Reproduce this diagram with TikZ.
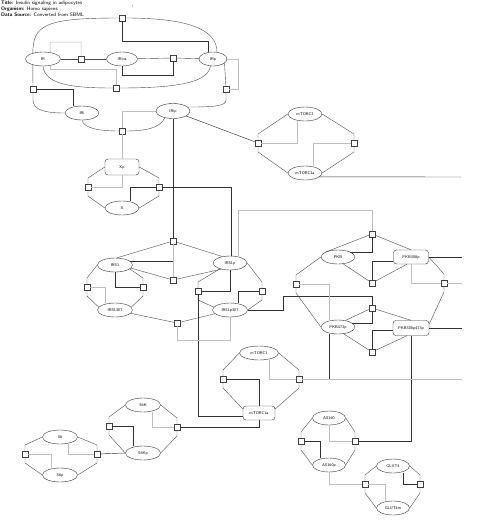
\documentclass[tikz,border=0pt]{standalone}
\usepackage{tikz}
\usetikzlibrary{shapes.geometric,calc}
\tikzset{>=latex}
\tikzset{
  spec/.style={ellipse,draw=black!80,fill=white,line width=0.4pt,minimum width=34pt,minimum height=14pt,inner sep=0pt,font=\fontsize{4}{5}\selectfont\sffamily},
  cplx/.style={rectangle,rounded corners=3pt,draw=black!80,fill=white,line width=0.4pt,minimum width=34pt,minimum height=14pt,inner sep=0pt,font=\fontsize{4}{5}\selectfont\sffamily},
  rxn/.style={rectangle,draw=black!75,fill=white,line width=0.4pt,minimum size=6pt,inner sep=0pt},
  conv/.style={draw=black!70,line width=0.4pt},
  modd/.style={draw=black!80,line width=0.45pt},
  modl/.style={draw=black!25,line width=0.5pt},
}

\begin{document}
\begin{tikzpicture}[x=1pt,y=-1pt]
  \useasboundingbox (0,0) rectangle (480,523);

  % Header
  \node[anchor=north west,align=left,inner sep=0pt,font=\fontsize{5}{6}\selectfont\sffamily] (head) at (1,1)
    {\textbf{Title:} Insulin signaling in adipocytes\\ \textbf{Organism:} Homo sapiens\\ \textbf{Data Source:} Converted from SBML};
  \node[inner sep=0pt,font=\fontsize{4}{5}\selectfont\sffamily,text=blue!40!black!50] (ref) at (133,6) {1};

  % Species
  \node[spec,minimum width=35pt] (ir) at (43,59) {IR};
  \node[spec,minimum width=31pt] (irins) at (122,59) {IRins};
  \node[spec,minimum width=28pt] (irp) at (213,59) {IRp};
  \node[spec] (iri) at (82,113) {IRi};
  \node[spec,minimum height=15pt] (irip) at (173,111) {IRip};
  \node[cplx,minimum height=16pt] (xp) at (122,167) {Xp};
  \node[spec] (x) at (122,208) {X};
  \node[spec] (mtorc2) at (305,114) {mTORC2};
  \node[spec] (mtorc2a) at (305,173) {mTORC2a};
  \node[spec,minimum width=35pt] (irs1) at (115,265) {IRS1};
  \node[spec] (irs1p) at (230,263) {IRS1p};
  \node[spec,minimum width=35pt] (irs1s) at (115,310) {IRS1307};
  \node[spec,minimum width=35pt] (irs1ps) at (230,310) {IRS1p307};
  \node[spec] (pkb) at (338,257) {PKB};
  \node[cplx,minimum width=35pt] (pkbt) at (411,257) {PKB308p};
  \node[spec] (pkbs) at (338,327) {PKB473p};
  \node[cplx,minimum width=36pt,minimum height=15pt] (pkbts) at (411,328) {PKB308p473p};
  \node[spec,minimum width=39pt] (mtorc1) at (259,353) {mTORC1};
  \node[cplx,minimum width=32pt] (mtorc1a) at (259,413) {mTORC1a};
  \node[spec,minimum width=35pt] (s6k) at (143,405) {S6K};
  \node[spec,minimum width=35pt] (s6kp) at (143,453) {S6Kp};
  \node[spec,minimum width=35pt] (s6) at (60,437) {S6};
  \node[spec,minimum width=35pt] (s6p) at (60,475) {S6p};
  \node[spec,minimum width=33pt] (as160) at (329,418) {AS160};
  \node[spec,minimum width=33pt] (as160p) at (329,465) {AS160p};
  \node[spec,minimum width=33pt] (glut4) at (393,466) {GLUT4};
  \node[spec,minimum width=33pt] (glut4m) at (393,508) {GLUT4m};

  % Reactions
  \foreach \n/\p in {r1/{122,18},r2/{81,59},r3/{173,58},r4/{116,88},r5/{33,89},r6/{226,89},r7/{122,131},
      x1/{88,187},x2/{159,187},m1/{258,143},m2/{354,143},
      q1/{173,241},q2/{173,280},q3/{87,287},q4/{143,287},q5/{198,291},q6/{262,291},q7/{177,323},
      p1/{372,234},p2/{296,284},p3/{372,283},p4/{372,308},p5/{444,283},p6/{372,352},
      c1/{223,379},c2/{299,379},k1/{109,426},k2/{177,427},e1/{25,454},e2/{97,454},
      a1/{301,441},a2/{355,441},g1/{365,484},g2/{420,484}}
    \node[rxn] (\n) at (\p) {};

  % Free ends
  \coordinate (out1) at (461,177);
  \coordinate (out2) at (462,257);
  \coordinate (out3) at (462,283);
  \coordinate (out4) at (462,328);
  \coordinate (out5) at (462,379);
  \coordinate (j1) at (329,379);

  % Conversions
  \foreach \a/\n/\b in {xp.west/x1/x.west, xp.east/x2/x.east,
      mtorc2.west/m1/mtorc2a.west, mtorc2.east/m2/mtorc2a.east,
      irs1.west/q3/irs1s.170, irs1.-15/q4/irs1s.10,
      irs1p.-150/q5/irs1ps.170, irs1p.east/q6/irs1ps.east,
      pkb.west/p2/pkbs.west, pkbt.east/p5/pkbts.12,
      mtorc1.west/c1/mtorc1a.166, mtorc1.east/c2/mtorc1a.14,
      s6k.west/k1/s6kp.west, s6k.east/k2/s6kp.east,
      s6.west/e1/s6p.west, s6.east/e2/s6p.east,
      as160.west/a1/as160p.west, as160.east/a2/as160p.east,
      glut4.west/g1/glut4m.west, glut4.east/g2/glut4m.east}
    \draw[conv] (\a) -- ($(\n)+(0,-9)$) -- (\n) (\n) -- ($(\n)+(0,9)$) -- (\b);

  \draw[conv] (ir.150) .. controls (33,25) and (45,18) .. (r1);
  \draw[conv] (r1) .. controls (190,18) and (217,30) .. (irp.60);
  \draw[conv] (ir) -- (r2);
  \draw[conv] (r2) -- (irins);
  \draw[conv] (irins) -- (r3);
  \draw[conv] (r3) -- (irp);
  \draw[conv] (ir.south) .. controls (45,84) and (70,88) .. (r4);
  \draw[conv] (r4) .. controls (180,88) and (208,82) .. (irp.-110);
  \draw[conv] (ir.-150) -- (r5);
  \draw[conv] (r5) -- (33,100) .. controls (33,110) and (45,113) .. (iri.west);
  \draw[conv] (irp.-20) -- (r6);
  \draw[conv] (r6) -- (226,100) .. controls (226,106) and (215,107) .. (irip.15);
  \draw[conv] (iri.south) .. controls (84,128) and (98,131) .. (r7);
  \draw[conv] (r7) .. controls (146,131) and (160,128) .. (irip.-140);
  \draw[conv] (irs1.75) -- (q1);
  \draw[conv] (q1) -- (irs1p.140);
  \draw[conv] (irs1.-11) -- (q2);
  \draw[conv] (q2) -- (irs1p.-145);
  \draw[conv] (irs1s) -- (q7);
  \draw[conv] (q7) -- (irs1ps);
  \draw[conv] (pkb.160) -- (p1);
  \draw[conv] (p1) -- (pkbt.north);
  \draw[conv] (pkb.-53) -- (p3);
  \draw[conv] (p3) -- ([xshift=-4pt]pkbt.south);
  \draw[conv] (pkbs.42) -- (p4);
  \draw[conv] (p4) -- (pkbts.north);
  \draw[conv] (pkbs.-50) -- (p6);
  \draw[conv] (p6) -- ([xshift=-4pt]pkbts.south);

  % Modifiers, dark
  \draw[modd] (r1) -- (122,41) -| ([xshift=-5pt]irp.north);
  \draw[modd] (irins.south) -- (122,75) -| (r3);
  \draw[modd] (r5) -| ([xshift=-9pt]iri.north);
  \draw[modd] (irip) -- (m1);
  \draw[modd] (irip) -- (q1);
  \draw[modd] ([xshift=8pt]x.north) |- (x2);
  \draw[modd] (x2) -| ([xshift=1pt]irs1p.north);
  \draw[modd] (irs1.15) -- (irs1.15 -| q1);
  \draw[modd] (irs1.south) |- (q4);
  \draw[modd] (irs1p.south) |- (q5);
  \draw[modd] ([xshift=8pt]irs1ps.north) |- (q6);
  \draw[modd] (q5) |- ([yshift=-3pt]mtorc1a.west);
  \draw[modd] (irs1ps.east) -| (283,296) -| (p4);
  \draw[modd] (pkb.23) -| (p1);
  \draw[modd] (p3) |- ([yshift=-4pt]pkbt.west);
  \draw[modd] (pkbs.15) -| (p4);
  \draw[modd] (p6) |- ([yshift=-2pt]pkbts.west);
  \draw[modd] ([xshift=-9pt]pkbs.south) -- (j1);
  \draw[modd] (pkbts.south) |- (a2);
  \draw[modd] (c1) -| (mtorc1a.north);
  \draw[modd] (mtorc1a.south) |- (k2);
  \draw[modd] (k1) -| ([xshift=-10pt]s6kp.north);
  \draw[modd] (e2) -- (s6kp.west);
  \draw[modd] (a1) -| ([xshift=-9pt]as160p.north);
  \draw[modd] ([xshift=10pt]glut4.south) |- (g2);

  % Modifiers, light
  \draw[modl] (ir.42) -- (50,42) -| (r2);
  \draw[modl] (ir.-42) |- (116,69) -- (r4);
  \draw[modl] (irp.east) -| (238,89) -- (r6);
  \draw[modl] (r7) |- (irip.west);
  \draw[modl] (r7) -- (xp);
  \draw[modl] (x1) -| (xp.south);
  \draw[modl] (m1) -| ([xshift=-8pt]mtorc2.south);
  \draw[modl] ([xshift=8pt]mtorc2a.north) |- (m2);
  \draw[modl] (q1) -- (q2);
  \draw[modl] (q3) -| ([xshift=-10pt]irs1s.north);
  \draw[modl] (q7) -- (177,340) -| (irs1ps);
  \draw[modl] ([xshift=8pt]irs1p.north) -- (238,210) -| (p1);
  \draw[modl] (p2) -| ([xshift=-9pt]pkbs.north);
  \draw[modl] (pkbt.south) |- (p5);
  \draw[modl] ([xshift=10pt]mtorc1.south) |- (c2);
  \draw[modl] ([xshift=9pt]s6k.south) |- (k2);
  \draw[modl] (e1) -| ([xshift=-9pt]s6p.north);
  \draw[modl] ([xshift=8pt]s6.south) |- (e2);
  \draw[modl] (as160.south) |- (a2);
  \draw[modl] (as160p.south) |- (g1);
  \draw[modl] (g1) -| ([xshift=-8pt]glut4m.north);

  % Outgoing
  \draw[modd] (mtorc2a.-15) -- (out1);
  \draw[modd] (pkbt.east) -- (out2);
  \draw[modl] (p5) -- (out3);
  \draw[modd] (pkbts.east) -- (out4);
  \draw[modl] (c2) -- (out5);
\end{tikzpicture}
\end{document}
